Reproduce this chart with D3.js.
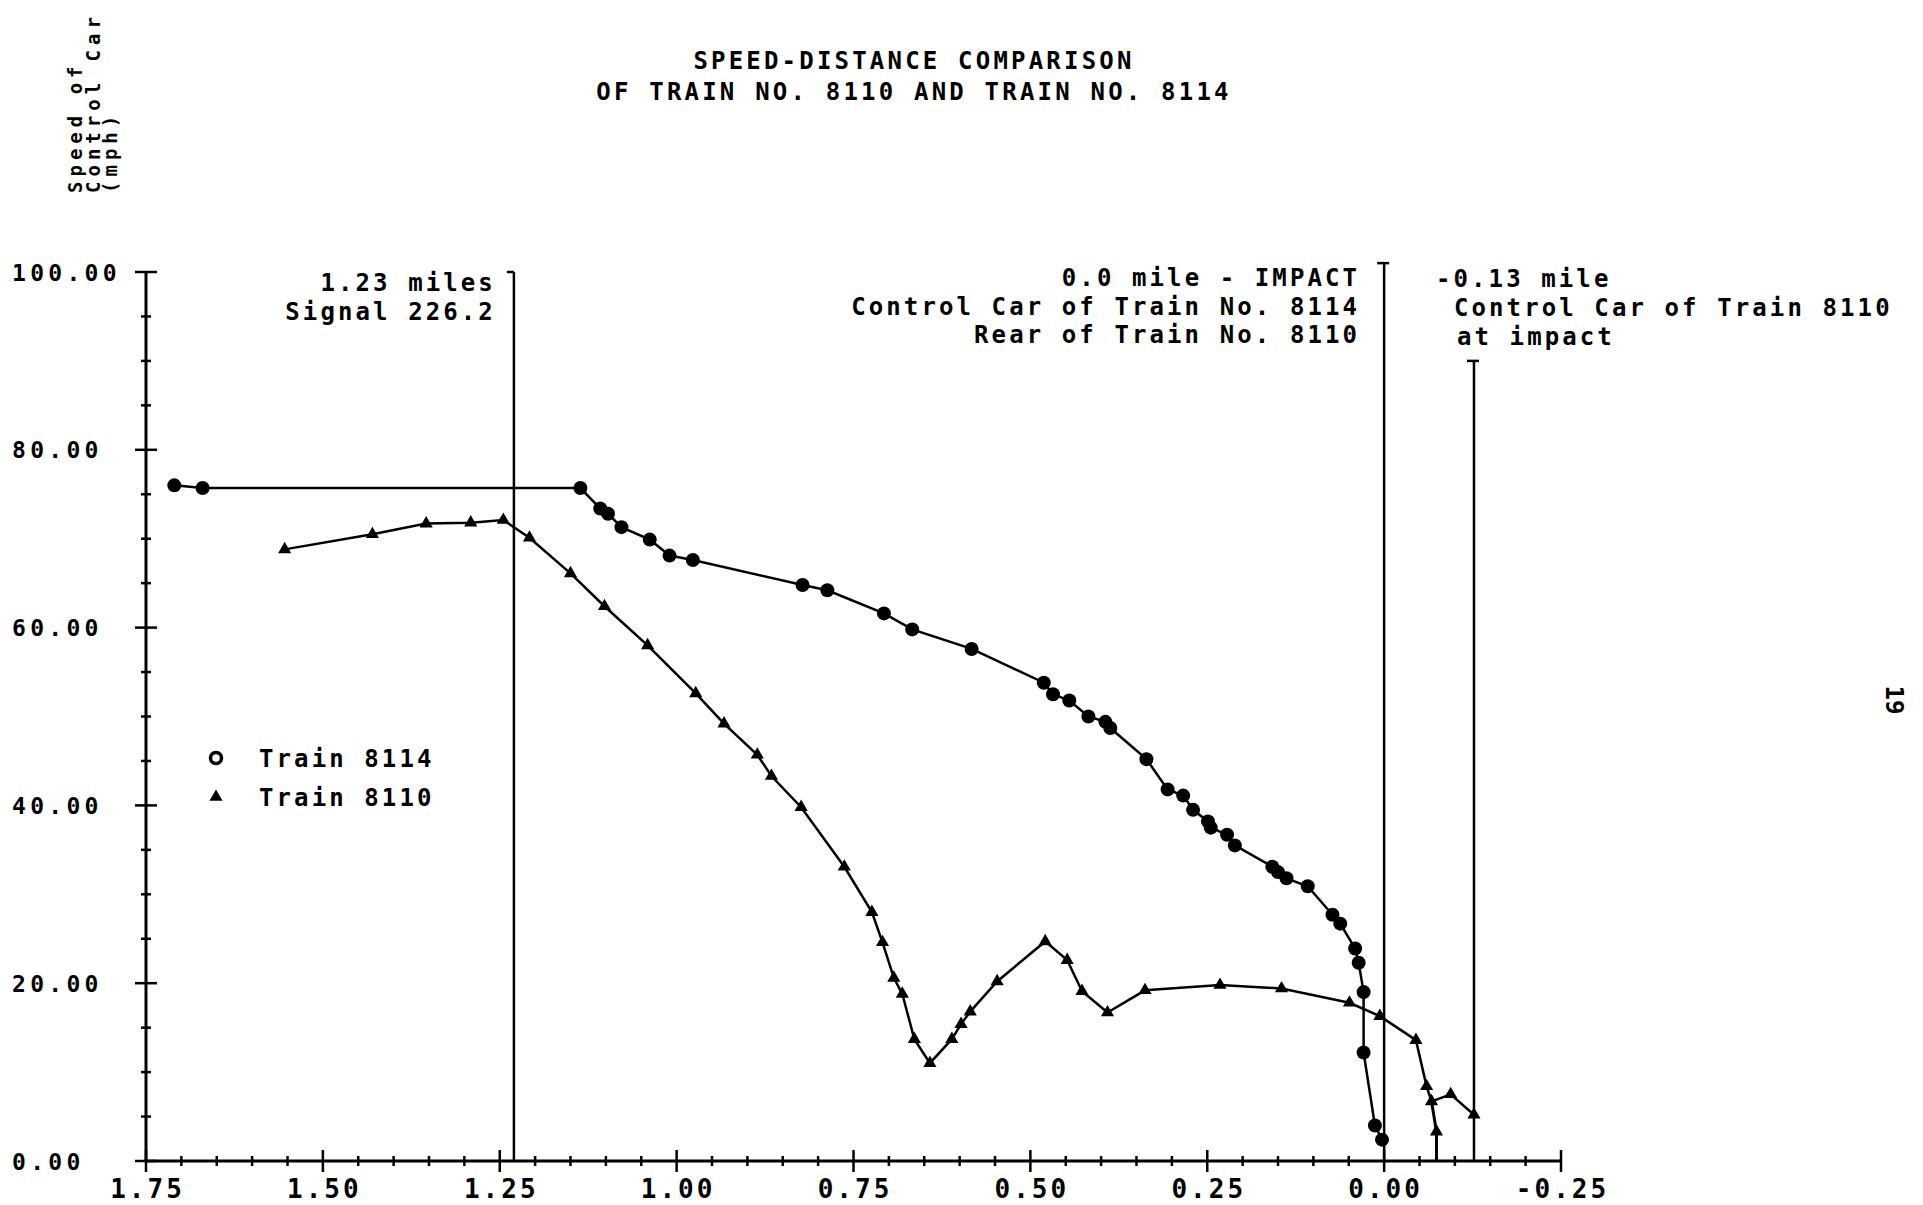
<!DOCTYPE html>
<html>
<head>
<meta charset="utf-8">
<script src="https://cdn.jsdelivr.net/npm/d3@7"></script>
<style>
  html, body { margin: 0; padding: 0; background: #fff; }
  svg { display: block; }
  text { font-family: "DejaVu Sans Mono", "Liberation Mono", monospace; font-weight: bold; fill: #000; }
</style>
</head>
<body>
<svg id="chart" width="1923" height="1205"></svg>
<script>
// ---------------- DATA ----------------
const titleLines = ["SPEED-DISTANCE COMPARISON", "OF TRAIN NO. 8110 AND TRAIN NO. 8114"];
const yTitleLines = ["Speed of", "Control Car", "(mph)"];

const xTickValues = [1.75, 1.50, 1.25, 1.00, 0.75, 0.50, 0.25, 0.00, -0.25];
const xTickLabels = ["1.75", "1.50", "1.25", "1.00", "0.75", "0.50", "0.25", "0.00", "-0.25"];
const yTickValues = [0, 20, 40, 60, 80, 100];
const yTickLabels = ["0.00", "20.00", "40.00", "60.00", "80.00", "100.00"];

// Train 8114 (circles): distance (miles), speed (mph)
const dist8114 = [1.710, 1.670, 1.136, 1.108, 1.097, 1.078, 1.038, 1.010, 0.977, 0.822, 0.787, 0.707, 0.667, 0.583,
  0.481, 0.468, 0.445, 0.418, 0.394, 0.387, 0.336, 0.306, 0.284, 0.270, 0.249, 0.245, 0.222, 0.211,
  0.158, 0.150, 0.138, 0.108, 0.073, 0.062, 0.041, 0.036, 0.029, 0.029, 0.013, 0.003];
const speed8114 = [76.0, 75.7, 75.7, 73.4, 72.8, 71.3, 69.9, 68.1, 67.6, 64.8, 64.2, 61.6, 59.8, 57.6,
  53.8, 52.5, 51.8, 50.0, 49.4, 48.7, 45.2, 41.8, 41.1, 39.5, 38.2, 37.5, 36.7, 35.5,
  33.1, 32.5, 31.8, 30.9, 27.7, 26.7, 23.9, 22.3, 19.0, 12.2, 4.0, 2.4];

// Train 8110 (triangles)
const dist8110 = [1.554, 1.430, 1.354, 1.291, 1.245, 1.208, 1.150, 1.102, 1.041, 0.973, 0.933, 0.886, 0.866, 0.824,
  0.763, 0.724, 0.709, 0.693, 0.681, 0.664, 0.642, 0.611, 0.598, 0.585, 0.547, 0.479, 0.448, 0.427,
  0.391, 0.338, 0.232, 0.145, 0.049, 0.006, -0.045, -0.060, -0.067, -0.094, -0.127];
const speed8110 = [68.8, 70.5, 71.7, 71.8, 72.1, 70.1, 66.1, 62.4, 58.0, 52.6, 49.2, 45.7, 43.3, 39.8,
  33.1, 28.0, 24.6, 20.6, 18.8, 13.7, 11.0, 13.7, 15.4, 16.8, 20.2, 24.7, 22.6, 19.1,
  16.7, 19.2, 19.8, 19.4, 17.8, 16.3, 13.6, 8.4, 6.7, 7.5, 5.2];
// Train 8110 short drop branch to zero
const dist8110Drop = [-0.067, -0.074, -0.074];
const speed8110Drop = [6.7, 3.3, 0.0];

// Reference marker lines: position (miles), top (mph), labels
const markerPos = [1.23, 0.0, -0.127];
const markerTop = [100, 101, 90];
const markerCap = ["left", "both", "both"];
const markerLabels = [
  ["1.23 miles", "Signal 226.2"],
  ["0.0 mile - IMPACT", "Control Car of Train No. 8114", "Rear of Train No. 8110"],
  ["-0.13 mile", "Control Car of Train 8110", "at impact"]
];

const legendLabels = ["Train 8114", "Train 8110"];
const pageNumber = "19";

// ---------------- CHART ----------------
const svg = d3.select("#chart");
const x = d3.scaleLinear().domain([1.75, -0.25]).range([146, 1561]);
const y = d3.scaleLinear().domain([0, 100]).range([1161, 272]);

// Title
svg.append("g").selectAll("text").data(titleLines).join("text")
  .attr("x", 914).attr("y", (d, i) => 69 + i * 31)
  .attr("text-anchor", "middle")
  .attr("font-size", 24).attr("letter-spacing", 3.2)
  .text(d => d);

// Y-axis title (rotated)
svg.append("g").selectAll("text").data(yTitleLines).join("text")
  .attr("transform", (d, i) => `translate(${82 + i * 17.5},193) rotate(-90)`)
  .attr("font-size", 19).attr("letter-spacing", 5)
  .text(d => d);

// Axes lines
const axisG = svg.append("g").attr("stroke", "#000").attr("fill", "none");
axisG.append("line").attr("x1", x(1.75)).attr("x2", x(1.75)).attr("y1", y(0)).attr("y2", y(100)).attr("stroke-width", 3);
axisG.append("line").attr("x1", x(1.75)).attr("x2", x(-0.25)).attr("y1", y(0)).attr("y2", y(0)).attr("stroke-width", 3);

// Y ticks (every 5 mph, major every 20)
const yMinor = d3.range(0, 101, 5);
axisG.selectAll(".yt").data(yMinor).join("line")
  .attr("x1", d => x(1.75) - (d % 20 === 0 ? 11 : 5))
  .attr("x2", d => x(1.75) + (d % 20 === 0 ? 11 : 5))
  .attr("y1", d => y(d)).attr("y2", d => y(d))
  .attr("stroke-width", 2.5);

// X ticks (every 0.05 mile, major every 0.25)
const xMinor = d3.range(0, 41).map(i => +(1.75 - i * 0.05).toFixed(2));
axisG.selectAll(".xt").data(xMinor).join("line")
  .attr("x1", d => x(d)).attr("x2", d => x(d))
  .attr("y1", d => y(0) - (Math.abs(d * 4 - Math.round(d * 4)) < 1e-6 ? 11 : 5))
  .attr("y2", d => y(0) + (Math.abs(d * 4 - Math.round(d * 4)) < 1e-6 ? 11 : 5))
  .attr("stroke-width", 2.5);

// Y tick labels (left aligned)
svg.append("g").selectAll("text").data(yTickValues).join("text")
  .attr("x", 12).attr("y", d => y(d) + 8.5)
  .attr("font-size", 23).attr("letter-spacing", 4.3)
  .text((d, i) => yTickLabels[i]);

// X tick labels
svg.append("g").selectAll("text").data(xTickValues).join("text")
  .attr("x", d => x(d) + 1.5).attr("y", 1198)
  .attr("text-anchor", "middle")
  .attr("font-size", 26).attr("letter-spacing", 3)
  .text((d, i) => xTickLabels[i]);

// Marker lines
const mG = svg.append("g").attr("stroke", "#000").attr("stroke-width", 2.5);
markerPos.forEach((p, i) => {
  mG.append("line").attr("x1", x(p)).attr("x2", x(p)).attr("y1", y(markerTop[i])).attr("y2", y(0));
  const capL = 7, capR = markerCap[i] === "both" ? 5 : 0;
  mG.append("line").attr("x1", x(p) - capL).attr("x2", x(p) + capR)
    .attr("y1", y(markerTop[i])).attr("y2", y(markerTop[i]));
});

// Marker labels
const lblG = svg.append("g").attr("font-size", 24).attr("letter-spacing", 3.1);
markerLabels[0].forEach((t, j) => {
  lblG.append("text").attr("x", x(markerPos[0]) - 18).attr("y", 291 + j * 29)
    .attr("text-anchor", "end").text(t);
});
markerLabels[1].forEach((t, j) => {
  lblG.append("text").attr("x", x(markerPos[1]) - 24).attr("y", 286 + j * 28.5)
    .attr("text-anchor", "end").text(t);
});
markerLabels[2].forEach((t, j) => {
  lblG.append("text").attr("x", x(markerPos[2]) - 38 + (j === 0 ? 0 : 18) + (j === 2 ? 3 : 0))
    .attr("y", 287 + j * 29).text(t);
});

// Lines
const line = d3.line().x(d => x(d[0])).y(d => y(d[1]));
const s8114 = dist8114.map((d, i) => [d, speed8114[i]]);
const s8110 = dist8110.map((d, i) => [d, speed8110[i]]);
const s8110Drop = dist8110Drop.map((d, i) => [d, speed8110Drop[i]]);

svg.append("path").datum(s8114).attr("d", line)
  .attr("fill", "none").attr("stroke", "#000").attr("stroke-width", 2.5);
svg.append("path").datum(s8110).attr("d", line)
  .attr("fill", "none").attr("stroke", "#000").attr("stroke-width", 2.5);
svg.append("path").datum(s8110Drop).attr("d", line)
  .attr("fill", "none").attr("stroke", "#000").attr("stroke-width", 3);

// Markers
svg.append("g").selectAll("circle").data(s8114).join("circle")
  .attr("cx", d => x(d[0])).attr("cy", d => y(d[1])).attr("r", 7)
  .attr("fill", "#000");
const tri = d3.symbol().type(d3.symbolTriangle).size(75);
svg.append("g").selectAll("path").data(s8110.concat([s8110Drop[1]])).join("path")
  .attr("transform", d => `translate(${x(d[0])},${y(d[1])})`)
  .attr("d", tri).attr("fill", "#000");

// Legend
const lg = svg.append("g");
lg.append("circle").attr("cx", 216).attr("cy", 758).attr("r", 5.5)
  .attr("fill", "none").attr("stroke", "#000").attr("stroke-width", 3.5);
lg.append("path").attr("transform", "translate(216,797)").attr("d", tri).attr("fill", "#000");
lg.selectAll("text").data(legendLabels).join("text")
  .attr("x", 259).attr("y", (d, i) => 767 + i * 39)
  .attr("font-size", 24).attr("letter-spacing", 3.1)
  .text(d => d);

// Page number
svg.append("text").attr("transform", "translate(1886,700) rotate(90)")
  .attr("text-anchor", "middle").attr("font-size", 24).attr("font-weight", "normal")
  .text(pageNumber);
</script>
</body>
</html>
